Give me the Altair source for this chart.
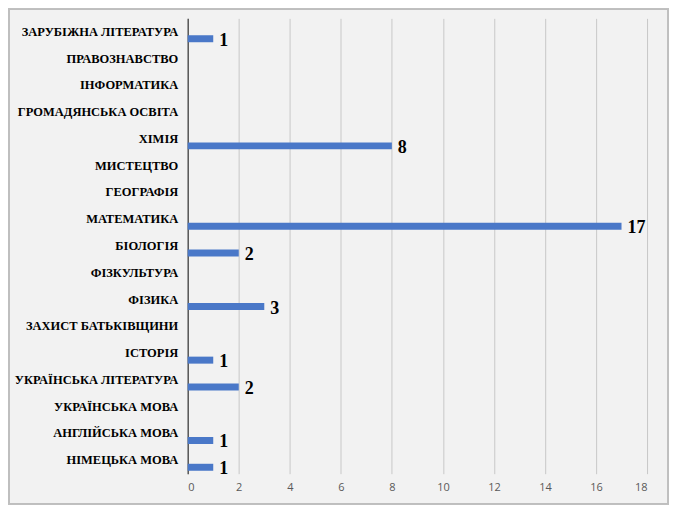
import altair as alt
import pandas as pd

subjects = [
    "ЗАРУБІЖНА ЛІТЕРАТУРА", "ПРАВОЗНАВСТВО", "ІНФОРМАТИКА", "ГРОМАДЯНСЬКА ОСВІТА",
    "ХІМІЯ", "МИСТЕЦТВО", "ГЕОГРАФІЯ", "МАТЕМАТИКА\u00a0", "БІОЛОГІЯ", "ФІЗКУЛЬТУРА",
    "ФІЗИКА", "ЗАХИСТ БАТЬКІВЩИНИ", "ІСТОРІЯ", "УКРАЇНСЬКА ЛІТЕРАТУРА",
    "УКРАЇНСЬКА МОВА", "АНГЛІЙСЬКА МОВА", "НІМЕЦЬКА МОВА",
]
counts = [1, 0, 0, 0, 8, 0, 0, 17, 2, 0, 3, 0, 1, 2, 0, 1, 1]
x_ticks = [0, 2, 4, 6, 8, 10, 12, 14, 16, 18]

df = pd.DataFrame({"subject": subjects, "count": counts})

W, H = 460, 456
PL, PT, PR, PB = 180, 10, 22, 31
SERIF = "'Liberation Serif', 'Times New Roman', 'DejaVu Serif', serif"

y_enc = alt.Y("subject:N", sort=subjects, title=None,
              axis=alt.Axis(labelFont=SERIF, labelFontWeight="bold",
                            labelFontSize=12.5, labelColor="#000000", labelPadding=10,
                            ticks=False, domainColor="#595959", domainWidth=1.5,
                            grid=False, labelLimit=200))
x_scale = alt.Scale(domain=[0, 18], nice=False)
x_enc = alt.X("count:Q", scale=x_scale, title=None,
              axis=alt.Axis(values=x_ticks, labelFont="Open Sans", labelFontSize=11,
                            labelColor="#595959", labelPadding=8, ticks=False,
                            domain=False, grid=True, gridColor="#c8c8c8", gridWidth=1))

bars = alt.Chart(df).mark_bar(color="#4a78c8", size=7, yOffset=7).encode(
    x=x_enc, y=y_enc)

labels = alt.Chart(df).transform_filter("datum.count > 0").mark_text(
    align="left", baseline="middle", dx=6, dy=9, font=SERIF,
    fontWeight="bold", fontSize=18, color="#000000").encode(
    x=alt.X("count:Q", scale=x_scale), y=alt.Y("subject:N", sort=subjects),
    text="count:Q")

border = alt.Chart(df).mark_rect(fill=None, stroke="#bfbfbf", strokeWidth=1.5).encode(
    x=alt.value(-PL + 0.75), x2=alt.value(W + PR - 0.75),
    y=alt.value(-PT + 0.75), y2=alt.value(H + PB - 0.75))

chart = alt.layer(bars, labels, border).properties(
    width=W, height=H,
    padding={"left": PL, "top": PT, "right": PR, "bottom": PB},
    autosize=alt.AutoSizeParams(type="none"),
    background="#f2f2f2",
).configure_view(stroke=None)

chart.save("out.html", embed_options={"renderer": "svg", "actions": False})
